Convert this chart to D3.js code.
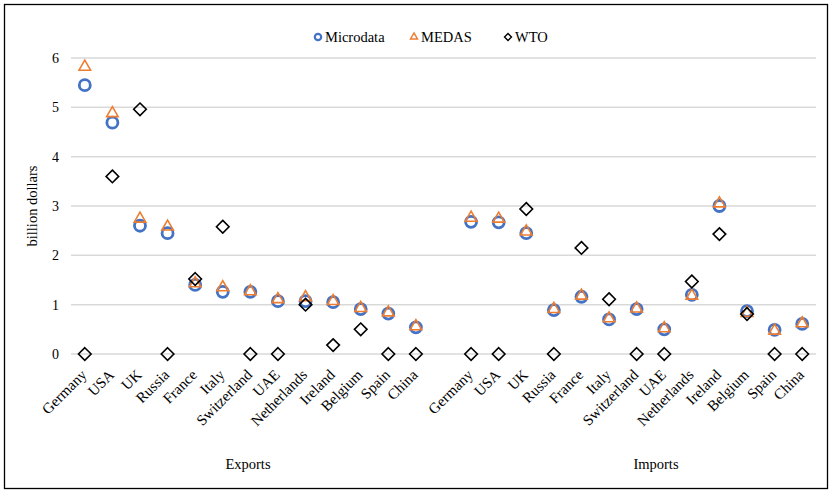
<!DOCTYPE html>
<html lang="en">
<head>
  <meta charset="utf-8">
  <title>Microdata vs MEDAS vs WTO</title>
  <script src="https://d3js.org/d3.v7.min.js"></script>
  <style>
    body { margin: 0; background: #fff; }
    text { font-family: "Liberation Serif", "Times New Roman", "DejaVu Serif", serif; }
    .grid line { stroke: #d9d9d9; stroke-width: 1.5; }
    .tick-label { font-size: 14px; fill: #000; }
  </style>
</head>
<body>
<div id="chart"></div>
<script>
  // Data (billion dollars)
  var countries = ["Germany", "USA", "UK", "Russia", "France", "Italy", "Switzerland",
                   "UAE", "Netherlands", "Ireland", "Belgium", "Spain", "China"];
  var groups = ["Exports", "Imports"];

  var microExports = [5.45, 4.69, 2.60, 2.45, 1.40, 1.26, 1.26, 1.07, 1.07, 1.05, 0.91, 0.82, 0.54];
  var medasExports = [5.82, 4.88, 2.74, 2.58, 1.43, 1.35, 1.27, 1.11, 1.15, 1.07, 0.93, 0.84, 0.56];
  var wtoExports   = [0, 3.60, 4.96, 0, 1.52, 2.58, 0, 0, 1.00, 0.18, 0.50, 0, 0];

  var microImports = [2.68, 2.67, 2.45, 0.89, 1.16, 0.70, 0.91, 0.50, 1.20, 3.00, 0.87, 0.49, 0.61];
  var medasImports = [2.76, 2.74, 2.48, 0.91, 1.18, 0.72, 0.92, 0.52, 1.18, 3.05, 0.83, 0.47, 0.62];
  var wtoImports   = [0, 0, 2.94, 0, 2.15, 1.11, 0, 0, 1.47, 2.43, 0.81, 0, 0];

  var yTicks = [0, 1, 2, 3, 4, 5, 6];

  var W = 833, H = 496;
  var margin = { top: 58, right: 17, bottom: 142, left: 71 };
  var serif = "'Liberation Serif', 'Times New Roman', 'DejaVu Serif', serif";

  var svg = d3.select("#chart").append("svg")
    .attr("width", W)
    .attr("height", H)
    .attr("font-family", serif);

  // outer frame
  svg.append("rect")
    .attr("x", 4.5).attr("y", 4.5)
    .attr("width", 823).attr("height", 484)
    .attr("fill", "none")
    .attr("stroke", "#000")
    .attr("stroke-width", 1.3);

  // one slot per country per group, with a blank slot between groups
  var slots = [];
  countries.forEach(function(c) { slots.push("Exports|" + c); });
  slots.push("gap");
  countries.forEach(function(c) { slots.push("Imports|" + c); });

  var x = d3.scaleBand()
    .domain(slots)
    .range([margin.left, W - margin.right]);

  var y = d3.scaleLinear()
    .domain([0, 6])
    .range([H - margin.bottom, margin.top]);

  function cx(key) { return x(key) + x.bandwidth() / 2; }

  // gridlines
  svg.append("g")
    .attr("class", "grid")
    .selectAll("line")
    .data(yTicks)
    .join("line")
    .attr("x1", margin.left)
    .attr("x2", W - margin.right)
    .attr("y1", function(d) { return y(d); })
    .attr("y2", function(d) { return y(d); });

  // y axis tick labels
  svg.append("g")
    .selectAll("text")
    .data(yTicks)
    .join("text")
    .attr("class", "tick-label")
    .attr("x", 59)
    .attr("y", function(d) { return y(d); })
    .attr("dy", "0.35em")
    .attr("text-anchor", "end")
    .text(function(d) { return d; });

  // y axis title
  svg.append("text")
    .attr("transform", "translate(37," + ((y(0) + y(6)) / 2) + ") rotate(-90)")
    .attr("text-anchor", "middle")
    .style("font-size", "14.5px")
    .text("billion dollars");

  // category labels
  var catKeys = slots.filter(function(s) { return s !== "gap"; });
  svg.append("g")
    .selectAll("text")
    .data(catKeys)
    .join("text")
    .attr("class", "tick-label")
    .style("font-size", "15px")
    .attr("text-anchor", "end")
    .attr("transform", function(d) {
      return "translate(" + (cx(d) - 1) + "," + (y(0) + 18) + ") rotate(-45)";
    })
    .attr("dy", "0.35em")
    .text(function(d) { return d.split("|")[1]; });

  // group labels
  svg.append("text")
    .attr("x", 248).attr("y", 469)
    .attr("text-anchor", "middle")
    .style("font-size", "14.5px")
    .text(groups[0]);
  svg.append("text")
    .attr("x", 656).attr("y", 469)
    .attr("text-anchor", "middle")
    .style("font-size", "14.5px")
    .text(groups[1]);

  // build point rows
  function rows(group, values) {
    return countries.map(function(c, i) { return { key: group + "|" + c, value: values[i] }; });
  }
  var micro = rows("Exports", microExports).concat(rows("Imports", microImports));
  var medas = rows("Exports", medasExports).concat(rows("Imports", medasImports));
  var wto = rows("Exports", wtoExports).concat(rows("Imports", wtoImports));

  var blue = "#4472c4", orange = "#ed7d31";
  var triPath = d3.symbol().type(d3.symbolTriangle).size(58);

  // Microdata: hollow circles
  svg.append("g")
    .selectAll("circle")
    .data(micro)
    .join("circle")
    .attr("cx", function(d) { return cx(d.key); })
    .attr("cy", function(d) { return y(d.value); })
    .attr("r", 5.5)
    .attr("fill", "#fff")
    .attr("stroke", blue)
    .attr("stroke-width", 2.8);

  // MEDAS: hollow triangles
  svg.append("g")
    .selectAll("path")
    .data(medas)
    .join("path")
    .attr("d", triPath)
    .attr("transform", function(d) { return "translate(" + cx(d.key) + "," + y(d.value) + ")"; })
    .attr("fill", "none")
    .attr("stroke", orange)
    .attr("stroke-width", 1.6);

  // WTO: hollow diamonds
  var diamond = "M0,-6.3L6.3,0L0,6.3L-6.3,0Z";
  svg.append("g")
    .selectAll("path")
    .data(wto)
    .join("path")
    .attr("d", diamond)
    .attr("transform", function(d) { return "translate(" + cx(d.key) + "," + y(d.value) + ")"; })
    .attr("fill", "none")
    .attr("stroke", "#000")
    .attr("stroke-width", 1.6);

  // legend
  var legend = svg.append("g").attr("transform", "translate(0,37)");
  var leg = [
    { name: "Microdata", x: 318 },
    { name: "MEDAS", x: 414 },
    { name: "WTO", x: 508 }
  ];
  legend.append("circle")
    .attr("cx", leg[0].x).attr("cy", 0).attr("r", 3.2)
    .attr("fill", "#fff").attr("stroke", blue).attr("stroke-width", 2.2);
  legend.append("path")
    .attr("d", d3.symbol().type(d3.symbolTriangle).size(22))
    .attr("transform", "translate(" + leg[1].x + ",0)")
    .attr("fill", "none").attr("stroke", orange).attr("stroke-width", 1.4);
  legend.append("path")
    .attr("d", "M0,-3.5L3.5,0L0,3.5L-3.5,0Z")
    .attr("transform", "translate(" + leg[2].x + ",0)")
    .attr("fill", "none").attr("stroke", "#000").attr("stroke-width", 1.4);
  legend.selectAll("text.leg")
    .data(leg)
    .join("text")
    .attr("class", "leg")
    .attr("x", function(d) { return d.x + 7; })
    .attr("y", 0)
    .attr("dy", "0.35em")
    .style("font-size", "14.5px")
    .text(function(d) { return d.name; });
</script>
</body>
</html>
